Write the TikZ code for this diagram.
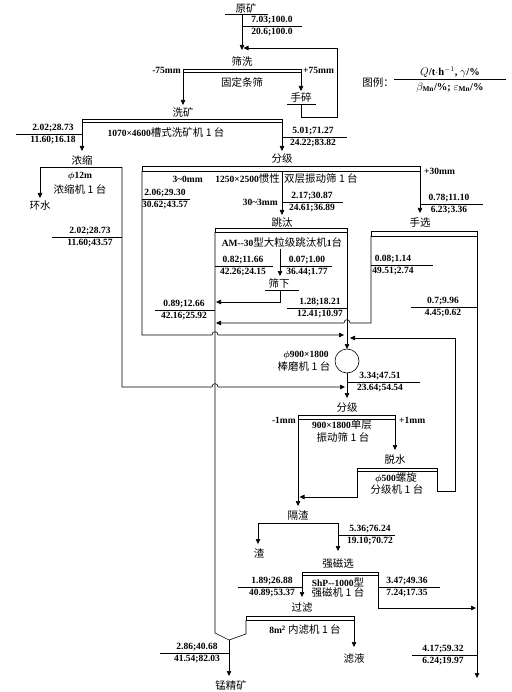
\documentclass[tikz,border=0pt]{standalone}
\usepackage{fontspec}
\setmainfont{Liberation Serif}
\newfontfamily\cjk{Noto Sans CJK SC}
\usetikzlibrary{arrows.meta}
\newcommand\zh[1]{{\cjk\mdseries\fontsize{10.5}{12}\selectfont #1}}
\newcommand\bphi{{\boldmath$\phi$}}
\newcommand\datalab[7]{%
 \node[num] (#1t) at (#2,#3-5.5) {#6};
 \draw[ln] (#4,#3) -- (#5,#3);
 \node[num] (#1b) at (#2,#3+6) {#7};}
\begin{document}
\begin{tikzpicture}[x=1pt,y=-1pt,
 ln/.style={line width=0.6pt},
 arr/.style={line width=0.6pt,-{Triangle[length=5pt,width=4.5pt]}},
 num/.style={font=\fontsize{9.5}{11}\selectfont\bfseries,inner sep=0pt},
 zhn/.style={font=\cjk\fontsize{10.5}{12}\selectfont,inner sep=0pt},
 bar/.style={line width=0.6pt}]
\useasboundingbox (0,0) rectangle (511,692);

% ---- top: raw ore, screening
\node[zhn] (ore) at (246,8) {原矿};
\draw[ln] (225,14) -- (268,14);
\draw[arr] (242,14) -- (242,50);
\datalab{d1}{272}{26}{242}{302}{7.03;100.0}{20.6;100.0}
\node[zhn] (sx) at (242,61) {筛洗};
\draw[bar] (183,69) rectangle (301,72);
\node[num,anchor=east] (m75) at (181,70.5) {-75mm};
\node[num,anchor=west] (p75) at (303,70.5) {+75mm};
\node[zhn] (gdts) at (242,82) {固定条筛};
\draw[arr] (183,72) -- (183,105);
\draw[arr] (301,72) -- (301,91);
\node[zhn] (ss) at (301,98) {手碎};
\draw[ln] (287,104) -- (316,104);
\draw[arr] (301,104) -- (301,117) -- (337,117) -- (337,48) -- (243.5,48);

% ---- legend
\node[zhn] (tl) at (378,83) {图例：};
\node[font=\fontsize{10.5}{12}\selectfont\bfseries,inner sep=0pt] (lgt) at (450,72.5) {$Q$/t$\cdot$h$^{-1}$, $\gamma$/\%};
\draw[ln] (394,79.5) -- (506,79.5);
\node[font=\fontsize{10.5}{12}\selectfont\bfseries,inner sep=0pt] (lgb) at (450,87.5) {$\beta_{\mathbf{Mn}}$/\%; $\varepsilon_{\mathbf{Mn}}$/\%};

% ---- washer
\node[zhn] (xk) at (183,112) {洗矿};
\draw[bar] (82,119.5) rectangle (282,122.5);
\node[num] (xkj) at (166,133) {1070×4600\zh{槽式洗矿机 1 台}};
\draw[arr] (82,122.5) -- (82,151);
\datalab{d2}{53}{134}{16}{82}{2.02;28.73}{11.60;16.18}
\draw[arr] (282,122.5) -- (282,151);
\datalab{d3}{313}{137}{282}{347}{5.01;71.27}{24.22;83.82}
\node[zhn] (ns) at (82,160) {浓缩};
\node[zhn] (fj1) at (282,159) {分级};

% ---- thickener
\draw[line width=0.9pt] (40,167) -- (122,167);
\node[num] (phi12) at (80,176) {\bphi12m};
\node[zhn] (nsj) at (80,189) {浓缩机 1 台};
\draw[arr] (40,167) -- (40,198);
\node[zhn] (hs) at (40,206) {环水};
\draw[arr] (122,167) -- (122,387) -- (212,387) .. controls (212,382.5) and (218,382.5) .. (218,387) -- (345,387);
\datalab{d4}{90}{237}{52}{122}{2.02;28.73}{11.60;43.57}

% ---- double deck screen
\draw[bar] (142,166) rectangle (420,171);
\node[num,anchor=west] (p30) at (424,171) {+30mm};
\node[num,anchor=east] (m30) at (203,179) {3\textasciitilde0mm};
\node[num,anchor=east] (sz) at (280,179) {1250×2500\zh{惯性}};
\node[zhn,anchor=west] (scd) at (284,179) {双层振动筛 1 台};
\draw[arr] (282,171) -- (282,215);
\node[zhn] (tt) at (282,223) {跳汰};
\node[num,anchor=east] (m303) at (278,202) {30\textasciitilde3mm};
\datalab{d5}{312}{202}{282}{343}{2.17;30.87}{24.61;36.89}
\draw[arr] (142,171) -- (142,335) -- (212,335) .. controls (212,330.5) and (218,330.5) .. (218,335) -- (344,335);
\datalab{d6}{165}{199}{142}{190}{2.06;29.30}{30.62;43.57}
\draw[arr] (420,171) -- (420,213);
\node[zhn] (sx2) at (420,223) {手选};
\datalab{d7}{449}{204}{420}{483}{0.78;11.10}{6.23;3.36}

% ---- jig
\draw[bar] (215,228) rectangle (347,232);
\node[num] (amj) at (282,242) {AM-{}-30\zh{型大粒级跳汰机}1\zh{台}};
\draw[arr] (347,232) -- (347,349);
\draw[arr] (280,249) -- (280,276);
\node[zhn] (sxia) at (279,283) {筛下};
\draw[ln] (265,290) -- (299,290);
\draw[arr] (280,290) -- (280,302) -- (216,302);
\datalab{d8}{243}{266}{215}{273}{0.82;11.66}{42.26;24.15}
\datalab{d9}{307}{266}{280}{332}{0.07;1.00}{36.44;1.77}
\datalab{d10}{320}{308}{287}{347}{1.28;18.21}{12.41;10.97}
\datalab{d11}{184}{310}{155}{215}{0.89;12.66}{42.16;25.92}

% ---- hand picking
\draw[bar] (371,231) rectangle (477,236);
\draw[arr] (371,236) -- (371,323) -- (350,323) .. controls (350,318.5) and (344,318.5) .. (344,323) -- (216,323);
\datalab{d12}{393}{265}{371}{433}{0.08;1.14}{49.51;2.74}
\draw[arr] (477,236) -- (477,678);
\datalab{d13}{443}{307}{411}{477}{0.7;9.96}{4.45;0.62}

% ---- rod mill
\draw[ln] (347,361) circle [radius=12];
\node[num] (phi900) at (306,355) {\bphi900×1800};
\node[zhn] (bmj) at (304,367) {棒磨机 1 台};
\draw[arr] (347,373) -- (347,398);
\datalab{d14}{380}{382}{347}{420}{3.34;47.51}{23.64;54.54}
\node[zhn] (fj2) at (347,408) {分级};

% ---- 1 mm screen
\draw[bar] (298,415.5) rectangle (395,419.5);
\node[num,anchor=east] (m1) at (296,420) {-1mm};
\node[num,anchor=west] (p1) at (399,420) {+1mm};
\node[num] (sc2) at (342,425) {900×1800\zh{单层}};
\node[zhn] (sc2b) at (343,437) {振动筛 1 台};
\draw[arr] (298,419.5) -- (298,506);
\draw[arr] (395,419.5) -- (395,450);
\node[zhn] (ts) at (395,460) {脱水};

% ---- spiral classifier
\draw[bar] (357,468.5) rectangle (437,471.5);
\node[num] (phi500) at (396,478) {\bphi500\zh{螺旋}};
\node[zhn] (fjj) at (397,490) {分级机 1 台};
\draw[arr] (357,471.5) -- (357,497) -- (299.5,497);
\draw[arr] (437,471.5) -- (437,491) -- (455,491) -- (455,338) -- (350,338);

% ---- slag separation
\node[zhn] (gz) at (298,515) {隔渣};
\draw[ln] (258,523) -- (338,523);
\draw[arr] (258,523) -- (258,544);
\node[zhn] (zha) at (259,553) {渣};
\draw[arr] (338,523) -- (338,551);
\datalab{d15}{370}{535}{338}{395}{5.36;76.24}{19.10;70.72}
\node[zhn] (qcx) at (338,564) {强磁选};

% ---- magnetic separator
\draw[bar] (302,572.5) rectangle (378,575.5);
\node[num] (shp) at (338,582) {ShP-{}-1000\zh{型}};
\node[zhn] (qcj) at (338,593) {强磁机 1 台};
\draw[arr] (302,575.5) -- (302,597);
\datalab{d16}{272}{587}{238}{302}{1.89;26.88}{40.89;53.37}
\draw[arr] (378,575.5) -- (378,608) -- (476,608);
\datalab{d17}{407}{587}{378}{440}{3.47;49.36}{7.24;17.35}
\node[zhn] (gl) at (302,608) {过滤};

% ---- filter
\draw[bar] (246,616.5) rectangle (354,620);
\node[num] (lj) at (305,630) {8m\textsuperscript{2} \zh{内滤机 1 台}};
\draw[arr] (354,620) -- (354,647);
\node[zhn] (ly) at (354,659) {滤液};
\draw[ln] (215,232) -- (215,633) -- (229,640) -- (246,634) -- (246,620);
\draw[arr] (229,640) -- (229,676);
\node[zhn] (mjk) at (231,685) {锰精矿};
\datalab{d18}{197}{653}{160}{229}{2.86;40.68}{41.54;82.03}
\datalab{d19}{443}{655}{412}{478}{4.17;59.32}{6.24;19.97}
\end{tikzpicture}
\end{document}
